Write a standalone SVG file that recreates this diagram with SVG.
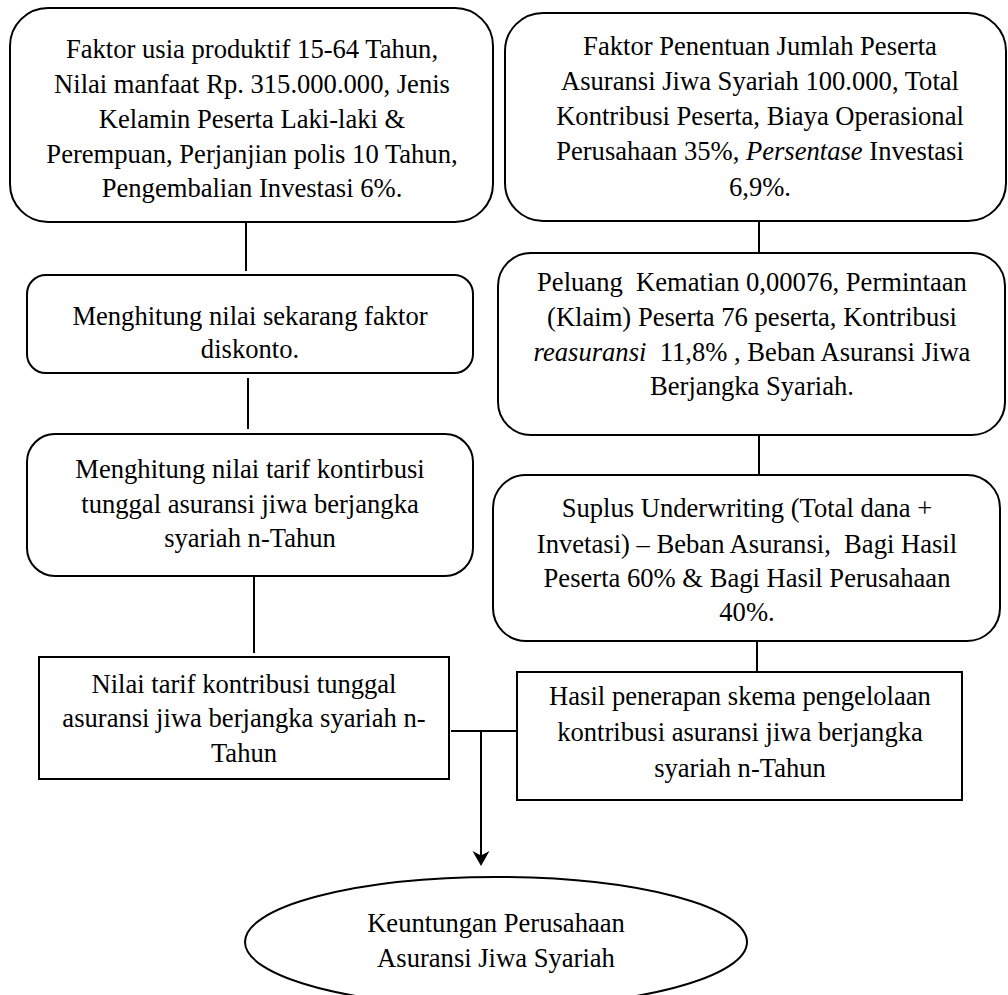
<svg xmlns="http://www.w3.org/2000/svg" width="1008" height="995" viewBox="0 0 1008 995">
<style>
.box{fill:#fff;stroke:#000;stroke-width:2}
.t{font-family:"Liberation Serif","Times New Roman",serif;font-size:26.6px;fill:#000;text-anchor:middle;white-space:pre}
.c{stroke:#000;stroke-width:2;fill:none}
</style>
<defs>
<marker id="arr" viewBox="0 0 16 16" refX="8" refY="14" markerWidth="16" markerHeight="16" markerUnits="userSpaceOnUse" orient="auto-start-reverse">
<path d="M0,0 L8,4 L16,0 L8,14 Z" fill="#000" transform="rotate(0)"/>
</marker>
</defs>
<rect width="1008" height="995" fill="#fff"/>
<g id="connectors">
<line class="c" x1="246" y1="222" x2="246" y2="271"/>
<line class="c" x1="248" y1="378" x2="248" y2="429"/>
<line class="c" x1="254" y1="576" x2="254" y2="653"/>
<line class="c" x1="759" y1="221" x2="759" y2="253"/>
<line class="c" x1="759" y1="435" x2="759" y2="474"/>
<line class="c" x1="757" y1="641" x2="757" y2="672"/>
<line class="c" x1="451" y1="731" x2="517" y2="731"/>
<line class="c" x1="481" y1="731" x2="481" y2="856"/>
<path d="M481,866 L472.5,851 L481,855.5 L489.5,851 Z" fill="#000"/>
</g>
<g id="n1">
<rect class="box" x="10" y="8" width="483" height="214" rx="38"/>
<text class="t"><tspan x="252" y="58">Faktor usia produktif 15-64 Tahun,</tspan><tspan x="252" y="93">Nilai manfaat Rp. 315.000.000, Jenis</tspan><tspan x="252" y="128">Kelamin Peserta Laki-laki &amp;</tspan><tspan x="252" y="163">Perempuan, Perjanjian polis 10 Tahun,</tspan><tspan x="252" y="197">Pengembalian Investasi 6%.</tspan></text>
</g>
<g id="n2">
<rect class="box" x="505" y="13" width="501" height="208" rx="38"/>
<text class="t"><tspan x="760" y="55">Faktor Penentuan Jumlah Peserta</tspan><tspan x="760" y="90">Asuransi Jiwa Syariah 100.000, Total</tspan><tspan x="760" y="125">Kontribusi Peserta, Biaya Operasional</tspan><tspan x="760" y="160">Perusahaan 35%, <tspan font-style="italic">Persentase</tspan> Investasi</tspan><tspan x="760" y="196">6,9%.</tspan></text>
</g>
<g id="n3">
<rect class="box" x="27" y="275" width="446" height="98" rx="19"/>
<text class="t"><tspan x="250" y="325">Menghitung nilai sekarang faktor</tspan><tspan x="250" y="358">diskonto.</tspan></text>
</g>
<g id="n4">
<rect class="box" x="498" y="253" width="507" height="182" rx="33"/>
<text class="t"><tspan x="752" y="291">Peluang  Kematian 0,00076, Permintaan</tspan><tspan x="752" y="326">(Klaim) Peserta 76 peserta, Kontribusi</tspan><tspan x="752" y="361"><tspan font-style="italic">reasuransi</tspan>  11,8% , Beban Asuransi Jiwa</tspan><tspan x="752" y="395">Berjangka Syariah.</tspan></text>
</g>
<g id="n5">
<rect class="box" x="27" y="434" width="446" height="142" rx="28"/>
<text class="t"><tspan x="250" y="478">Menghitung nilai tarif kontirbusi</tspan><tspan x="250" y="513">tunggal asuransi jiwa berjangka</tspan><tspan x="250" y="547">syariah n-Tahun</tspan></text>
</g>
<g id="n6">
<rect class="box" x="493" y="475" width="507" height="166" rx="33"/>
<text class="t"><tspan x="747" y="517">Suplus Underwriting (Total dana +</tspan><tspan x="747" y="553">Invetasi) – Beban Asuransi,  Bagi Hasil</tspan><tspan x="747" y="587">Peserta 60% &amp; Bagi Hasil Perusahaan</tspan><tspan x="747" y="621">40%.</tspan></text>
</g>
<g id="n7">
<rect class="box" x="39" y="657" width="410" height="122"/>
<text class="t"><tspan x="244" y="693">Nilai tarif kontribusi tunggal</tspan><tspan x="244" y="727">asuransi jiwa berjangka syariah n-</tspan><tspan x="244" y="762">Tahun</tspan></text>
</g>
<g id="n8">
<rect class="box" x="517" y="672" width="445" height="128"/>
<text class="t"><tspan x="740" y="705">Hasil penerapan skema pengelolaan</tspan><tspan x="740" y="741">kontribusi asuransi jiwa berjangka</tspan><tspan x="740" y="777">syariah n-Tahun</tspan></text>
</g>
<g id="n9">
<ellipse class="box" cx="496" cy="942" rx="251" ry="65"/>
<text class="t"><tspan x="496" y="932">Keuntungan Perusahaan</tspan><tspan x="496" y="967">Asuransi Jiwa Syariah</tspan></text>
</g>
</svg>
